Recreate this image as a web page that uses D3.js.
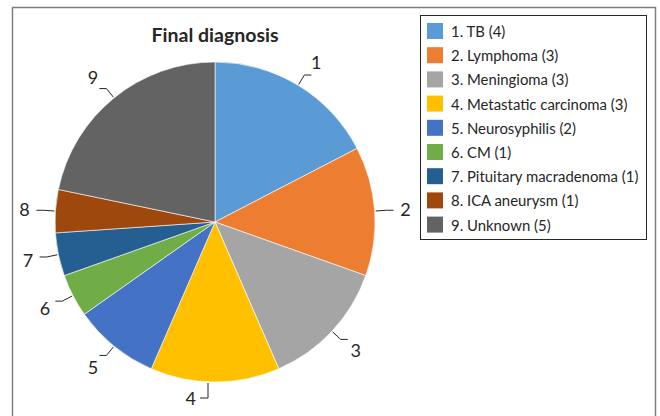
<!DOCTYPE html>
<html><head><meta charset="utf-8">
<script src="https://cdn.jsdelivr.net/npm/d3@7/dist/d3.min.js"></script>
<style>body{margin:0;background:#fff;} svg{display:block;}</style>
</head><body>
<svg id="c" width="660" height="416"></svg>
<script>
const labels = ["1. TB (4)","2. Lymphoma (3)","3. Meningioma (3)","4. Metastatic carcinoma (3)","5. Neurosyphilis (2)","6. CM (1)","7. Pituitary macradenoma (1)","8. ICA aneurysm (1)","9. Unknown (5)"];
const shortLabels = ["1","2","3","4","5","6","7","8","9"];
const values = [4,3,3,3,2,1,1,1,5];
const colors = ["#5B9BD5","#ED7D31","#A5A5A5","#FFC000","#4472C4","#70AD47","#255E91","#9E480E","#636363"];
const title = "Final diagnosis";

const svg = d3.select("#c");
const font = "Lato, 'Liberation Sans', sans-serif";
// outer border
svg.append("rect").attr("x",12.5).attr("y",7.5).attr("width",643).attr("height",420)
  .attr("fill","#fff").attr("stroke","#7f7f7f").attr("stroke-width",1.5);

svg.append("text").attr("x",215).attr("y",42).attr("text-anchor","middle")
  .attr("font-family",font).attr("font-weight","bold").attr("font-size",19.5).attr("fill","#262626").text(title);

const cx=215, cy=222, R=160;
const data = values.map((v,i)=>({v,i}));
const pie = d3.pie().value(d=>d.v).sort(null);
const arc = d3.arc().innerRadius(0).outerRadius(R);
const g = svg.append("g").attr("transform",`translate(${cx},${cy})`);
const arcs = pie(data);
g.selectAll("path.s").data(arcs).join("path").attr("class","s")
  .attr("d",arc).attr("fill",d=>colors[d.data.i]).attr("stroke","#fff").attr("stroke-width",0.6);

// labels with leader lines
arcs.forEach(d=>{
  const a=(d.startAngle+d.endAngle)/2;
  const s=Math.sin(a), c=-Math.cos(a);
  const p=r=>[r*s, r*c];
  const p0=p(R+1);
  const t = g.append("text").attr("font-family",font).attr("font-size",18).attr("fill","#262626")
    .attr("dominant-baseline","central").text(shortLabels[d.data.i]);
  if (Math.abs(s) < 0.15) {
    // near bottom: vertical then horizontal to the left
    const p1=[p0[0]-7, p0[1]+(c>0?15:-15)];
    const q0=[p1[0], p0[1]];
    const p2=[p1[0]-8, p1[1]];
    g.append("path").attr("d",d3.line()([q0,p1,p2])).attr("fill","none").attr("stroke","#262626").attr("stroke-width",1);
    t.attr("x",p2[0]-4).attr("y",p2[1]).attr("text-anchor","end");
  } else {
    const p1=p(R+12);
    const dir = s>0?1:-1;
    const p2=[p1[0]+dir*7, p1[1]];
    g.append("path").attr("d",d3.line()([p0,p1,p2])).attr("fill","none").attr("stroke","#262626").attr("stroke-width",1);
    const lp=p(R+27);
    t.attr("x",lp[0]+dir*4).attr("y",lp[1]).attr("text-anchor","middle");
  }
});

// legend
const lx=420.5, ly=15.5;
svg.append("rect").attr("x",lx).attr("y",ly).attr("width",226).attr("height",224)
  .attr("fill","#fff").attr("stroke","#262626").attr("stroke-width",1);
const lg = svg.append("g");
labels.forEach((t,i)=>{
  const y=ly+15+i*24.2;
  lg.append("rect").attr("x",427).attr("y",y-7.5).attr("width",16).attr("height",16).attr("fill",colors[i]);
  lg.append("text").attr("x",451).attr("y",y+0.5).attr("dominant-baseline","central")
    .attr("font-family",font).attr("font-size",14.9).attr("fill","#262626").text(t);
});
</script>
</body></html>
